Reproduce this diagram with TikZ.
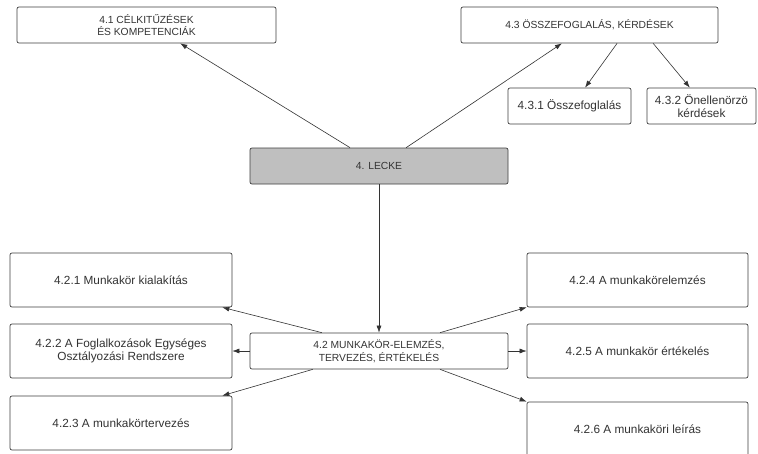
\documentclass[tikz,border=0pt]{standalone}
\usepackage{fontspec}
\setmainfont{Liberation Sans}
\usetikzlibrary{calc,arrows.meta}
\begin{document}
\begin{tikzpicture}[x=1pt,y=-1pt,
  box/.style={draw=black!75, line width=0.7pt, rounded corners=2pt, fill=white,
    inner sep=0pt, align=center, text=black!80},
  capsbox/.style={box, font=\fontsize{10.3}{12.5}\selectfont},
  textbox/.style={box, font=\fontsize{11.8}{13.5}\selectfont},
  link/.style={draw=black!80, line width=0.6pt, -{Latex[length=7pt,width=5pt]}}]
\useasboundingbox (0,0) rectangle (758,453);
\fill[white] (0,0) rectangle (758,453);

% top level
\node[capsbox, minimum width=259pt, minimum height=36pt] (t41) at (146.5,25)
  {4.1 CÉLKITŰZÉSEK\\ÉS KOMPETENCIÁK};
\node[capsbox, minimum width=257pt, minimum height=36pt] (t43) at (589.5,25)
  {4.3 ÖSSZEFOGLALÁS, KÉRDÉSEK};
\node[textbox, minimum width=123pt, minimum height=36pt] (t431) at (569.5,106)
  {4.3.1 Összefoglalás};
\node[textbox, minimum width=109pt, minimum height=36pt] (t432) at (701.5,106)
  {4.3.2 Önellenörzö\\kérdések};
\node[capsbox, fill=black!25, minimum width=258pt, minimum height=36pt] (lecke) at (379,166)
  {4. LECKE};

% section 4.2
\node[capsbox, minimum width=258pt, minimum height=36pt] (t42) at (379,351)
  {4.2 MUNKAKÖR-ELEMZÉS,\\TERVEZÉS, ÉRTÉKELÉS};
\node[textbox, minimum width=222pt, minimum height=54pt] (t421) at (121,280)
  {4.2.1 Munkakör kialakítás};
\node[textbox, minimum width=222pt, minimum height=54pt] (t422) at (121,351)
  {4.2.2 A Foglalkozások Egységes\\Osztályozási Rendszere};
\node[textbox, minimum width=222pt, minimum height=54pt] (t423) at (121,423)
  {4.2.3 A munkakörtervezés};
\node[textbox, minimum width=221pt, minimum height=54pt] (t424) at (637.5,280)
  {4.2.4 A munkakörelemzés};
\node[textbox, minimum width=221pt, minimum height=54pt] (t425) at (637.5,351)
  {4.2.5 A munkakör értékelés};
\node[textbox, minimum width=221pt, minimum height=54pt] (t426) at (637.5,429)
  {4.2.6 A munkaköri leírás};

% connectors
\draw[link] ($(lecke.north west)!0.388!(lecke.north east)$) -- ($(t41.south west)!0.63!(t41.south east)$);
\draw[link] ($(lecke.north west)!0.605!(lecke.north east)$) -- ($(t43.south west)!0.393!(t43.south east)$);
\draw[link] ($(t43.south west)!0.607!(t43.south east)$) -- ($(t431.north west)!0.626!(t431.north east)$);
\draw[link] ($(t43.south west)!0.747!(t43.south east)$) -- ($(t432.north west)!0.394!(t432.north east)$);
\draw[link] (lecke.south) -- (t42.north);

\draw[link] ($(t42.north west)!0.279!(t42.north east)$) -- ($(t421.south west)!0.955!(t421.south east)$);
\draw[link] (t42.west) -- (t422.east);
\draw[link] ($(t42.south west)!0.244!(t42.south east)$) -- ($(t423.north west)!0.955!(t423.north east)$);
\draw[link] ($(t42.north west)!0.736!(t42.north east)$) -- (t424.south west);
\draw[link] (t42.east) -- (t425.west);
\draw[link] ($(t42.south west)!0.736!(t42.south east)$) -- (t426.north west);
\end{tikzpicture}
\end{document}
